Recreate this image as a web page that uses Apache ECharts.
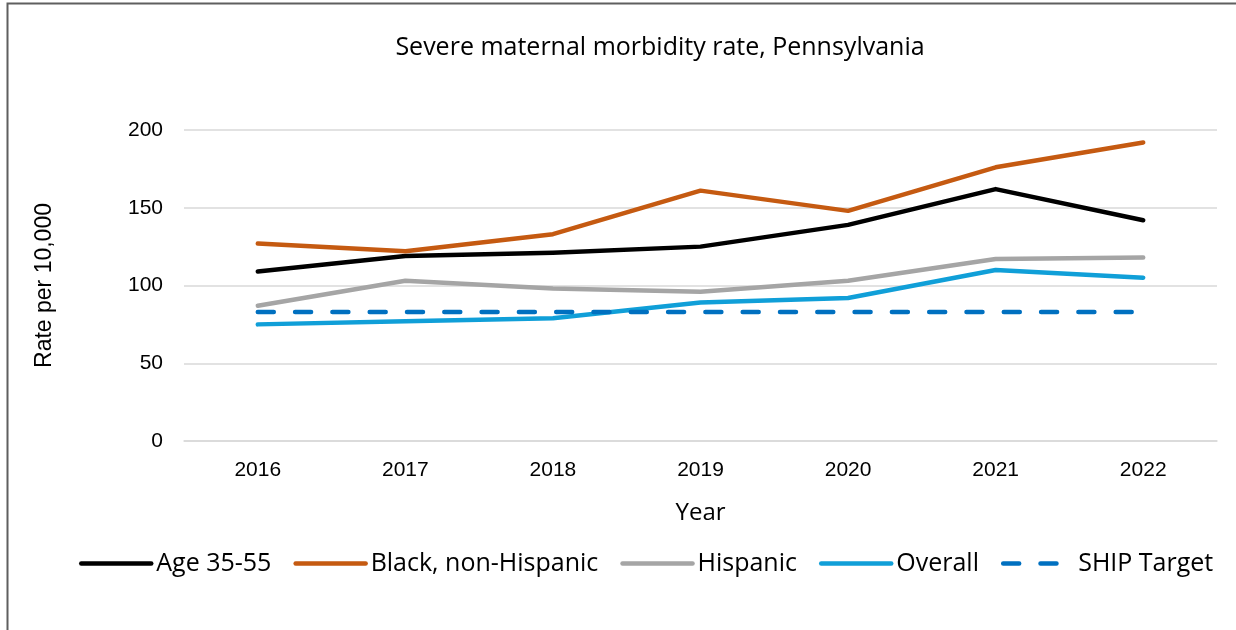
<!DOCTYPE html>
<html>
<head>
<meta charset="utf-8">
<script src="https://cdn.jsdelivr.net/npm/echarts@6/dist/echarts.min.js"></script>
<style>
  html, body { margin: 0; padding: 0; background: #fff; }
  #chart { width: 1236px; height: 630px; }
</style>
</head>
<body>
<div id="chart"></div>
<script>
const years = ['2016', '2017', '2018', '2019', '2020', '2021', '2022']
const age3555 = [109, 119, 121, 125, 139, 162, 142]
const blackNonHispanic = [127, 122, 133, 161, 148, 176, 192]
const hispanic = [87, 103, 98, 96, 103, 117, 118]
const overall = [75, 77, 79, 89, 92, 110, 105]
const shipTarget = [83, 83, 83, 83, 83, 83, 83]

const textFont = '"Open Sans", Roboto, sans-serif'
const tickFont = '"Liberation Sans", Arial, sans-serif'

const lineSeries = (name, data, color, type) => ({
  name,
  type: 'line',
  data,
  symbol: 'none',
  lineStyle: { color, width: 4.5, type: type || 'solid', cap: 'round', join: 'round' },
  itemStyle: { color },
  emphasis: { disabled: true }
})

const chart = echarts.init(document.getElementById('chart'), null, { renderer: 'canvas' })

chart.setOption({
  backgroundColor: '#fff',
  animation: false,
  title: {
    text: 'Severe maternal morbidity rate, Pennsylvania',
    left: 655,
    textAlign: 'center',
    top: 30,
    textStyle: { color: '#000', fontSize: 25, fontWeight: 'normal', fontFamily: textFont }
  },
  graphic: [{
    type: 'rect',
    shape: { x: 7.5, y: 3.5, width: 1300, height: 700 },
    style: { fill: 'none', stroke: '#5f5f5f', lineWidth: 2 },
    silent: true
  }],
  legend: {
    top: 546,
    left: 74,
    itemWidth: 70,
    itemHeight: 14,
    itemGap: 22,
    itemStyle: { opacity: 0 },
    lineStyle: { width: 4.5, cap: 'round' },
    textStyle: { color: '#000', fontSize: 25, fontFamily: textFont },
    data: ['Age 35-55', 'Black, non-Hispanic', 'Hispanic', 'Overall', 'SHIP Target']
  },
  grid: { left: 184, right: 19, top: 130, bottom: 189, containLabel: false },
  xAxis: {
    type: 'category',
    data: years,
    boundaryGap: true,
    name: 'Year',
    nameLocation: 'middle',
    nameGap: 60,
    nameTextStyle: { color: '#000', fontSize: 24, fontFamily: textFont },
    axisLine: { show: true, lineStyle: { color: '#d9d9d9', width: 1.5 } },
    axisTick: { show: false },
    axisLabel: { color: '#000', fontSize: 21, fontFamily: tickFont, margin: 19 }
  },
  yAxis: {
    type: 'value',
    min: 0,
    max: 200,
    interval: 50,
    name: 'Rate per 10,000',
    nameLocation: 'middle',
    nameGap: 128,
    nameRotate: 90,
    nameTextStyle: { color: '#000', fontSize: 23, fontFamily: tickFont },
    axisLine: { show: false },
    axisTick: { show: false },
    axisLabel: { color: '#000', fontSize: 21, fontFamily: tickFont, margin: 21 },
    splitLine: { show: true, lineStyle: { color: '#d9d9d9', width: 1.5 } }
  },
  series: [
    lineSeries('Age 35-55', age3555, '#000000'),
    lineSeries('Black, non-Hispanic', blackNonHispanic, '#c55a11'),
    lineSeries('Hispanic', hispanic, '#a5a5a5'),
    lineSeries('Overall', overall, '#109fd8'),
    lineSeries('SHIP Target', shipTarget, '#0070c0', [16, 21.3])
  ]
})
</script>
</body>
</html>
